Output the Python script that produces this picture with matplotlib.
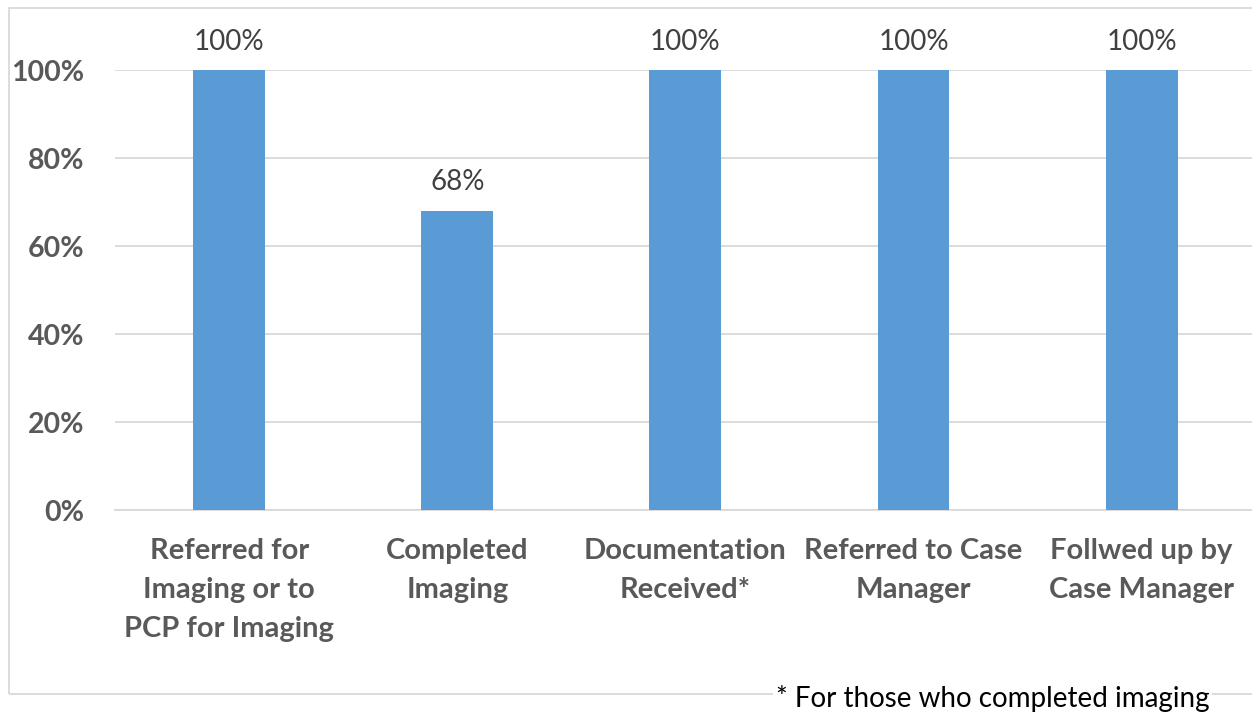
import numpy as np
import matplotlib.pyplot as plt
from matplotlib.patches import Rectangle

plt.rcParams['font.family'] = ['Lato', 'DejaVu Sans']

categories = ['Referred for\nImaging or to\nPCP for Imaging', 'Completed\nImaging',
              'Documentation\nReceived*', 'Referred to Case\nManager', 'Follwed up by\nCase Manager']
values = [1.00, 0.68, 1.00, 1.00, 1.00]
yticks = [0, 0.2, 0.4, 0.6, 0.8, 1.0]
ytick_labels = ['0%', '20%', '40%', '60%', '80%', '100%']

fig = plt.figure(figsize=(12.52, 7.13), dpi=100)
ax = fig.add_axes([0.0919, 0.2847, 0.9111, 0.6171])

x = np.arange(len(categories))
ax.bar(x, values, width=0.315, color='#5B9BD5', zorder=3)
for xi, v in zip(x, values):
    ax.text(xi, v + 0.035, f'{v:.0%}', ha='center', va='bottom', fontsize=20,
            color='#404040', clip_on=False)

ax.set_xlim(-0.5, 4.5)
ax.set_ylim(0, 1.0)
ax.set_yticks(yticks)
ax.set_yticklabels(ytick_labels, fontsize=20.5, fontweight='bold', color='#595959')
ax.set_xticks(x)
ax.set_xticklabels(categories, fontsize=21, fontweight='bold', color='#595959',
                   linespacing=1.62)
ax.tick_params(axis='both', length=0)
ax.tick_params(axis='y', pad=22)
ax.tick_params(axis='x', pad=20)
ax.grid(axis='y', color='#D9D9D9', linewidth=1.3, zorder=0)
for s in ['top', 'right', 'left']:
    ax.spines[s].set_visible(False)
ax.spines['bottom'].set_color('#D9D9D9')
ax.spines['bottom'].set_linewidth(1.3)

# outer chart frame
fig.patches.append(Rectangle((9 / 1252, 19 / 713), 1.05, 686 / 713, transform=fig.transFigure,
                             fill=False, edgecolor='#D9D9D9', linewidth=1.3))

fig.text(0.793, 15 / 713, '* For those who completed imaging', ha='center', va='center',
         fontsize=20, color='black',
         bbox=dict(facecolor='white', edgecolor='none', pad=2))

fig.savefig('out.png', dpi=100)
